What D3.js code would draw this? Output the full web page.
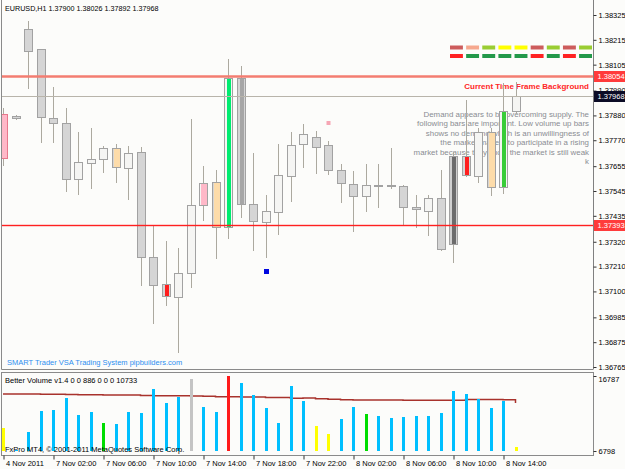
<!DOCTYPE html>
<html><head><meta charset="utf-8">
<script src="https://cdn.jsdelivr.net/npm/d3@7"></script>
<style>
html,body{margin:0;padding:0;background:#fcfcfa;}
svg{display:block;font-family:"Liberation Sans",Arial,sans-serif;}
</style></head><body>
<svg id="c" width="625" height="469"></svg>
<script>
// ---------------- DATA ----------------
const times = ["4 Nov 22:00","4 Nov 23:00","7 Nov 00:00","7 Nov 01:00","7 Nov 02:00","7 Nov 03:00","7 Nov 04:00","7 Nov 05:00",
  "7 Nov 06:00","7 Nov 07:00","7 Nov 08:00","7 Nov 09:00","7 Nov 10:00","7 Nov 11:00","7 Nov 12:00","7 Nov 13:00",
  "7 Nov 14:00","7 Nov 15:00","7 Nov 16:00","7 Nov 17:00","7 Nov 18:00","7 Nov 19:00","7 Nov 20:00","7 Nov 21:00",
  "7 Nov 22:00","7 Nov 23:00","8 Nov 00:00","8 Nov 01:00","8 Nov 02:00","8 Nov 03:00","8 Nov 04:00","8 Nov 05:00",
  "8 Nov 06:00","8 Nov 07:00","8 Nov 08:00","8 Nov 09:00","8 Nov 10:00","8 Nov 11:00","8 Nov 12:00","8 Nov 13:00",
  "8 Nov 14:00","8 Nov 15:00"];
const open  = [1.37692,1.37878,1.38263,1.38174,1.37869,1.37847,1.37599,1.37669,1.37687,1.37736,1.37647,1.37718,1.37253,1.37133,
  1.37076,1.37182,1.37483,1.37585,1.37386,1.38046,1.37488,1.37408,1.37452,1.37612,1.37754,1.37785,1.37749,1.37638,1.37576,
  1.37523,1.37568,1.37570,1.37568,1.37474,1.37457,1.37514,1.37311,1.37700,1.37612,1.37807,1.37563,1.37900];
const high  = [1.37913,1.37882,1.38298,1.38176,1.38006,1.37913,1.37807,1.37824,1.37745,1.37754,1.37745,1.37740,1.37390,1.37324,
  1.37293,1.37864,1.37656,1.37638,1.38130,1.38099,1.37714,1.37528,1.37754,1.37807,1.37842,1.37811,1.37767,1.37665,1.37634,
  1.37665,1.37665,1.37736,1.37572,1.37528,1.37528,1.37638,1.37718,1.37948,1.37824,1.37824,1.38024,1.38026];
const low   = [1.37661,1.37864,1.38002,1.37762,1.37762,1.37545,1.37532,1.37559,1.37630,1.37585,1.37510,1.37129,1.36961,1.37040,
  1.36832,1.37120,1.37417,1.37249,1.37337,1.37430,1.37284,1.37253,1.37355,1.37501,1.37652,1.37625,1.37621,1.37497,1.37368,
  1.37457,1.37474,1.37559,1.37399,1.37386,1.37350,1.37284,1.37231,1.37612,1.37585,1.37528,1.37536,1.37892];
const close = [1.37886,1.37869,1.38166,1.37873,1.37847,1.37599,1.37674,1.37687,1.37736,1.37652,1.37714,1.37253,1.37129,1.37080,
  1.37182,1.37483,1.37581,1.37386,1.38046,1.37488,1.37412,1.37457,1.37616,1.37749,1.37798,1.37740,1.37638,1.37581,1.37523,
  1.37572,1.37570,1.37572,1.37474,1.37466,1.37514,1.37288,1.37700,1.37616,1.37807,1.37563,1.37900,1.37968];
// VSA bar signal codes (P pink, T tan, R red, G green, L lime, S dark grey, D very dark)
const candleSignal = ["P","","","","","","","","","T","","","","R","","","P","T","G","S","","","","","","","","","","","","","","","","","D","R","","T","L",""];
const volume = [5080,150,4320,8950,9180,11790,8060,8800,6340,6040,8800,8430,13880,10810,12150,16110,9910,8650,16787,15290,
  12530,9550,6190,14620,11190,5670,3800,7160,9910,8280,7830,7460,7680,7830,7830,8580,13430,12760,11570,9550,11260,886];
// volume bar codes: B normal, Y low, G green, W grey, R climax
const volumeSignal = ["Y","B","B","B","B","B","B","B","G","B","B","B","B","B","B","W","B","B","R","B","B","B","B","B","B","Y","Y","B","B","G",
  "B","B","B","B","B","B","B","B","B","B","B","Y"];
const volumeAvg = [12760,12760,12740,12720,12700,12620,12600,12580,12560,12540,12520,12400,12380,12360,12340,12320,12250,12150,12120,12100,
  12080,12000,11980,11800,11880,11700,11600,11450,11420,11420,11420,11420,11380,11380,11380,11380,11380,11550,11550,11500,11450,10733];
const priceTicks = [1.38325,1.38215,1.38105,1.37990,1.37880,1.37770,1.37655,1.37545,1.37435,1.37320,1.37210,1.37100,1.36985,1.36875,1.36765];
const priceTickLabels = ["1.38325","1.38215","1.38105","1.37990","1.37880","1.37770","1.37655","1.37545","1.37435","1.37320","1.37210","1.37100","1.36985","1.36875","1.36765"];
const xTickTimes = ["4 Nov 22:00","7 Nov 02:00","7 Nov 06:00","7 Nov 10:00","7 Nov 14:00","7 Nov 18:00","7 Nov 22:00","8 Nov 02:00","8 Nov 06:00","8 Nov 10:00","8 Nov 14:00"];
const xTickLabels = ["4 Nov 2011","7 Nov 02:00","7 Nov 06:00","7 Nov 10:00","7 Nov 14:00","7 Nov 18:00","7 Nov 22:00","8 Nov 02:00","8 Nov 06:00","8 Nov 10:00","8 Nov 14:00"];
const levelPrices = [1.38054, 1.37968, 1.37393];
const levelKinds = ["tf","bid","tf2"];
const markerTimes = ["7 Nov 19:00","8 Nov 00:00"];
const markerPrices = [1.37191, 1.37847];
const markerKinds = ["blue","pink"];
const volAxisValues = [16787, 0];
const volAxisLabels = ["16787","6798"];
const headerText = "EURUSD,H1  1.37900 1.38026 1.37892 1.37968";
const noteLines = ["Demand appears to be overcoming supply. The","following bars are important. Low volume up bars",
  "shows no demand which is an unwillingness of","the market makers to participate in a rising",
  "market because they know the market is still weak","k"];
const tfTitle = "Current Time Frame Background";
const footerTitle = "SMART Trader VSA Trading System pipbuilders.com";
const volTitle = "Better Volume v1.4 0 0 886 0 0 0 10733";
const copyright = "FxPro MT4, \u00A9 2001-2011 MetaQuotes Software Corp.";
const dashRow1 = ["IR","LS","YG","Y","Y","IR","YG","IR","YG"];
const dashRow2 = ["R","G","G","G","G","R","G","R","G"];

// ---------------- STYLE ----------------
const sigColor = {P:"#ffb8c8",T:"#fddcaa",R:"#ff1e1e",G:"#00ec70",L:"#38cc38",S:"#a6a6a6",D:"#6c6c6c"};
const sigWide = {P:true,T:true};
const volColor = {B:"#00bfff",Y:"#ffff00",G:"#00dd00",W:"#c4c4c4",R:"#ff1a1a"};
const dashColor = {IR:"#cd5c5c",LS:"#f6a88e",YG:"#9acd32",Y:"#ffff00",R:"#ff2222",G:"#23994a"};
const FONT = "Liberation Sans, Arial, sans-serif";

const svg = d3.select("#c");
const L = 2, R = 593, T = 0, B = 369, VT = 372, VB = 455;
const defs = svg.append("defs");
defs.append("clipPath").attr("id","clipMain").append("rect").attr("x",L).attr("y",T).attr("width",R-L).attr("height",B-T);
defs.append("clipPath").attr("id","clipVol").append("rect").attr("x",L).attr("y",VT).attr("width",R-L).attr("height",VB-VT);

svg.append("rect").attr("width",625).attr("height",469).attr("fill","#fcfcfa");

const x = d3.scalePoint().domain(times).range([3, 515.5]);
const y = d3.scaleLinear().domain([1.36765, 1.38325]).range([367, 15]);
const yv = d3.scaleLinear().domain([0, 16787]).range([451, 376]);

const bars = times.map((t,i)=>({t,o:open[i],h:high[i],l:low[i],c:close[i],s:candleSignal[i],v:volume[i],vs:volumeSignal[i],a:volumeAvg[i]}));
const cx = d => Math.round(x(d.t));

// header
svg.append("text").attr("x",5).attr("y",11).attr("font-size",7.2).attr("fill","#000").text(headerText);

const gm = svg.append("g").attr("clip-path","url(#clipMain)");

// note text (behind candles)
gm.append("g").selectAll("text").data(noteLines).join("text")
  .attr("x",589).attr("y",(d,i)=>116.5+i*9.5).attr("text-anchor","end")
  .attr("font-size",7.9).attr("fill","#8a8c92").text(d=>d);

gm.append("text").attr("x",589).attr("y",89).attr("text-anchor","end").attr("font-size",8)
  .attr("font-weight","bold").attr("fill","#ff2626").text(tfTitle);

// dashes
const dx = d3.scaleBand().domain(d3.range(dashRow1.length)).range([450, 592]).paddingInner(0.2);
[dashRow1, dashRow2].forEach((row,ri)=>{
  gm.append("g").selectAll("rect").data(row).join("rect")
    .attr("x",(d,i)=>dx(i)).attr("width",dx.bandwidth()).attr("y",45.5+ri*8.5).attr("height",4)
    .attr("fill",d=>dashColor[d]);
});

// wicks
gm.append("g").selectAll("line").data(bars).join("line")
  .attr("x1",d=>cx(d)+0.5).attr("x2",d=>cx(d)+0.5)
  .attr("y1",d=>Math.round(y(d.h))).attr("y2",d=>Math.round(y(d.l))+1)
  .attr("stroke","#aca99f");
// bodies
gm.append("g").selectAll("rect").data(bars).join("rect")
  .attr("x",d=>cx(d)-3.5).attr("width",8)
  .attr("y",d=>Math.round(y(Math.max(d.o,d.c)))+0.5)
  .attr("height",d=>Math.max(1,Math.round(Math.abs(y(d.o)-y(d.c)))))
  .attr("fill",d=>d.s==="D"?"#d0d0d0":(d.c>=d.o?"#f5f5f3":"#d5d5d5"))
  .attr("stroke",d=>d.s==="P"&&d.t===times[0]?"#e8788c":"#a2a2a2");
// signal highlights
gm.append("g").selectAll("rect").data(bars.filter(d=>d.s)).join("rect")
  .attr("x",d=>sigWide[d.s]?cx(d)-2:cx(d)-1).attr("width",d=>sigWide[d.s]?6:4)
  .attr("y",d=>Math.round(y(Math.max(d.o,d.c)))+1)
  .attr("height",d=>Math.max(1,Math.round(Math.abs(y(d.o)-y(d.c)))-1))
  .attr("fill",d=>sigColor[d.s]);

// markers
gm.append("g").selectAll("rect").data(markerTimes).join("rect")
  .attr("x",(d,i)=>Math.round(x(d))-(markerKinds[i]==="blue"?2:1.5)).attr("y",(d,i)=>Math.round(y(markerPrices[i]))-2)
  .attr("width",(d,i)=>markerKinds[i]==="blue"?5:4).attr("height",(d,i)=>markerKinds[i]==="blue"?5:4)
  .attr("fill",(d,i)=>markerKinds[i]==="blue"?"#0008e0":"#f6a6b4");

// level lines (drawn as thin filled rects)
const lvStyle = {tf:{c:"#f37d71",h:2.5},bid:{c:"#b8b4aa",h:1},tf2:{c:"#ff2020",h:1.4}};
gm.append("g").selectAll("rect").data(levelPrices).join("rect")
  .attr("x",L).attr("width",R-L)
  .attr("y",(d,i)=>Math.round(y(d))+0.5-lvStyle[levelKinds[i]].h/2)
  .attr("height",(d,i)=>lvStyle[levelKinds[i]].h)
  .attr("fill",(d,i)=>lvStyle[levelKinds[i]].c);

gm.append("text").attr("x",7).attr("y",365).attr("font-size",7.5).attr("fill","#2d8ff0").text(footerTitle);

// price axis
const ya = svg.append("g").attr("transform",`translate(${R+0.5},0)`)
  .call(d3.axisRight(y).tickValues(priceTicks).tickFormat((d,i)=>priceTickLabels[i]).tickSize(3).tickPadding(2));
ya.select(".domain").attr("stroke","#808080").attr("d",`M0,${T}V${B}`);
ya.selectAll(".tick line").attr("stroke","#333");
ya.selectAll(".tick text").attr("font-size",7.5).attr("font-family",FONT).attr("fill","#000");

// level labels on axis
const lvLabelBg = {tf:"#ff3b3b",bid:"#0c0c26",tf2:"#ff3b3b"};
const lvg = svg.append("g").selectAll("g").data(levelPrices).join("g")
  .attr("transform",d=>`translate(594,${Math.round(y(d))})`);
lvg.append("rect").attr("x",0).attr("y",-5).attr("width",31).attr("height",11).attr("fill",(d,i)=>lvLabelBg[levelKinds[i]]);
lvg.append("text").attr("x",3.5).attr("y",3).attr("font-size",7.5).attr("fill","#fff").text(d=>d3.format(".5f")(d));

// main frame
svg.append("path").attr("d",`M${L-0.5},${T}V${B+0.5}H${R+0.5}`).attr("fill","none").attr("stroke","#8a8a8a");

// ---------------- VOLUME PANEL ----------------
const gv = svg.append("g").attr("clip-path","url(#clipVol)");
gv.append("path").datum(bars).attr("fill","none").attr("stroke","#a8322c").attr("stroke-width",1.5)
  .attr("d",d3.line().x(d=>x(d.t)).y(d=>yv(d.a)).curve(d3.curveStepAfter));
gv.append("g").selectAll("rect").data(bars).join("rect")
  .attr("x",d=>cx(d)-1).attr("width",3)
  .attr("y",d=>Math.round(yv(d.v))).attr("height",d=>Math.max(0,451-Math.round(yv(d.v))))
  .attr("fill",d=>volColor[d.vs]);
svg.append("text").attr("x",5).attr("y",383).attr("font-size",7.5).attr("fill","#000").text(volTitle);
svg.append("text").attr("x",5).attr("y",452).attr("font-size",7.5).attr("fill","#000").text(copyright);
svg.append("rect").attr("x",L-0.5).attr("y",VT+0.5).attr("width",R-L+1).attr("height",VB-VT).attr("fill","none").attr("stroke","#8a8a8a");

const va = svg.append("g").attr("transform",`translate(${R+0.5},0)`)
  .call(d3.axisRight(yv).tickValues(volAxisValues).tickFormat((d,i)=>volAxisLabels[i]).tickSize(3).tickPadding(2));
va.select(".domain").remove();
va.selectAll(".tick line").attr("stroke","#333");
va.selectAll(".tick text").attr("font-size",7.5).attr("font-family",FONT).attr("fill","#000")
  .attr("dy",(d,i)=>i===0?"0.7em":"0.32em");

// time axis
const xa = svg.append("g").attr("transform",`translate(0.5,${VB+0.5})`)
  .call(d3.axisBottom(x).tickValues(xTickTimes).tickFormat((d,i)=>xTickLabels[i]).tickSize(4).tickSizeOuter(0).tickPadding(1));
xa.select(".domain").remove();
xa.selectAll(".tick line").attr("stroke","#333");
xa.selectAll(".tick text").attr("font-size",7.5).attr("font-family",FONT).attr("fill","#000")
  .attr("text-anchor","start").attr("x",2);
</script>
</body></html>
